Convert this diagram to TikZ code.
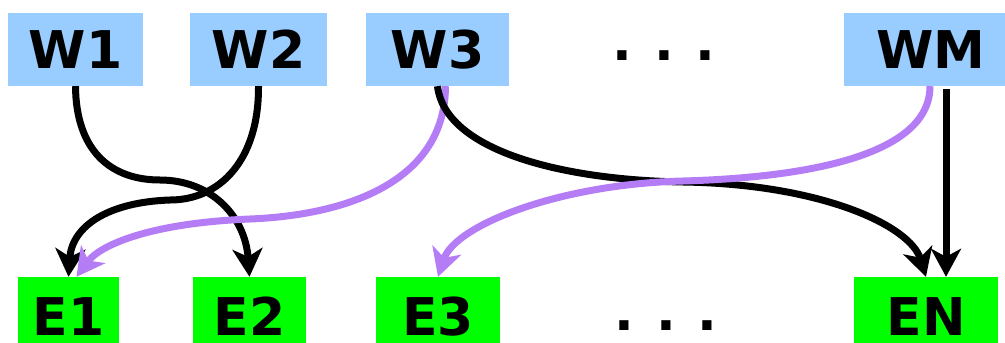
\documentclass[tikz,border=0pt]{standalone}
\usepackage{fontspec}
\setmainfont{DejaVu Sans}
\usetikzlibrary{arrows.meta}
\definecolor{wblue}{RGB}{153,204,255}
\definecolor{egreen}{RGB}{0,255,0}
\definecolor{lilac}{RGB}{180,125,245}
\begin{document}
\begin{tikzpicture}[x=1pt,y=-1pt,
  lbl/.style={inner sep=0pt, font=\fontsize{52}{52}\selectfont\bfseries},
  wbox/.style={lbl, fill=wblue, minimum height=73pt},
  ebox/.style={lbl, fill=egreen, minimum height=66pt, text height=50pt, text depth=0pt},
  dots/.style={inner sep=0pt, font=\fontsize{52}{52}\selectfont\bfseries, anchor=base},
  tip/.style={-{Stealth[length=28pt,width=30pt,inset=8pt]}},
  blk/.style={line width=7pt, draw=black, tip},
  pur/.style={line width=7pt, draw=lilac, tip}]
\useasboundingbox (0,0) rectangle (1005,343);
\clip (0,0) rectangle (1005,343);
% top row
\node[wbox, minimum width=135pt] (w1) at (75.5,49.5) {W1};
\node[wbox, minimum width=137pt] (w2) at (258.5,49.5) {W2};
\node[wbox, minimum width=143pt] (w3) at (437.5,49.5) {W3};
\node[wbox, minimum width=174pt] (wm) at (931,49.5) {WM};
\node[dots] (tdots) at (664,60) {.\hspace{22pt}.\hspace{22pt}.};
% bottom row
\node[ebox, minimum width=101pt] (e1) at (68.5,310) {E1};
\node[ebox, minimum width=113pt] (e2) at (249.5,310) {E2};
\node[ebox, minimum width=124pt] (e3) at (438,310) {E3};
\node[ebox, minimum width=144pt] (en) at (926,310) {EN};
\node[dots] (bdots) at (666,330) {.\hspace{22pt}.\hspace{22pt}.};
% connectors
\draw[blk] (w1.south) .. controls (76,150) and (110,180) .. (160,180)
  .. controls (210,180) and (245,215) .. (e2.north);
\draw[blk] (w2.south) .. controls (259,160) and (220,200) .. (170,200)
  .. controls (110,202) and (72,225) .. (e1.north);
\draw[pur] ([xshift=8pt]w3.south) .. controls (445,180) and (350,215) .. (250,219)
  .. controls (150,223) and (100,245) .. ([xshift=8pt]e1.north);
\draw[blk] (w3.south) .. controls (445,150) and (560,180) .. (683,182)
  .. controls (820,184) and (910,225) .. (en.north);
\draw[pur] ([xshift=-1pt]wm.south) .. controls (930,160) and (790,178) .. (683,181)
  .. controls (560,184) and (455,225) .. (e3.north);
\draw[blk] ([xshift=15pt,yshift=-3pt]wm.south) -- ([xshift=20pt]en.north);
\end{tikzpicture}
\end{document}
